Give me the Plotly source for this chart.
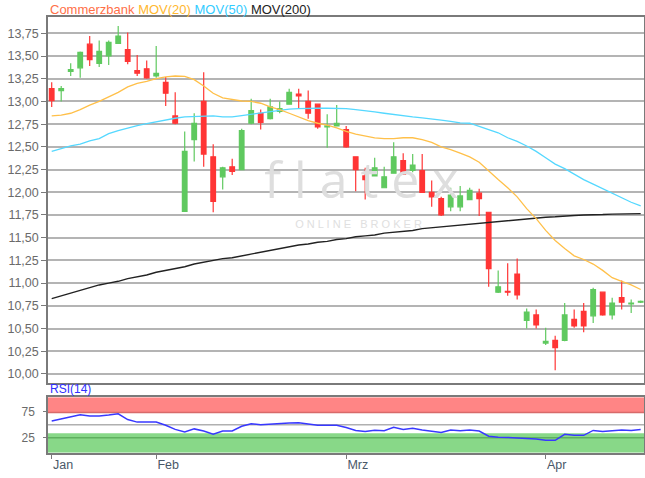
import plotly.graph_objects as go

dates = [
    "2018-01-17", "2018-01-18", "2018-01-19", "2018-01-22", "2018-01-23", "2018-01-24", "2018-01-25",
    "2018-01-26", "2018-01-29", "2018-01-30", "2018-01-31",
    "2018-02-01", "2018-02-02", "2018-02-05", "2018-02-06", "2018-02-07", "2018-02-08", "2018-02-09",
    "2018-02-12", "2018-02-13", "2018-02-14", "2018-02-15", "2018-02-16", "2018-02-19", "2018-02-20",
    "2018-02-21", "2018-02-22", "2018-02-23", "2018-02-26", "2018-02-27", "2018-02-28",
    "2018-03-01", "2018-03-02", "2018-03-05", "2018-03-06", "2018-03-07", "2018-03-08", "2018-03-09",
    "2018-03-12", "2018-03-13", "2018-03-14", "2018-03-15", "2018-03-16", "2018-03-19", "2018-03-20",
    "2018-03-21", "2018-03-22", "2018-03-23", "2018-03-26", "2018-03-27", "2018-03-28", "2018-03-29",
    "2018-04-03", "2018-04-04", "2018-04-05", "2018-04-06", "2018-04-09", "2018-04-10", "2018-04-11",
    "2018-04-12", "2018-04-13", "2018-04-16", "2018-04-17",
]

open_ = [13.14, 13.12, 13.33, 13.37, 13.63, 13.42, 13.50, 13.64, 13.57, 13.34, 13.36,
         13.28, 13.21, 12.84, 11.79, 12.58, 13.00, 12.39, 12.17, 12.28, 12.25, 12.76,
         12.87, 12.81, 12.89, 12.97, 13.08, 13.00, 12.97, 12.72, 12.73,
         12.69, 12.39, 12.18, 12.18, 12.05, 12.21, 12.35, 12.24, 12.24, 12.00, 11.93,
         11.84, 11.84, 11.92, 11.99, 11.78, 10.90, 10.91, 11.10, 10.59, 10.65,
         10.34, 10.37, 10.37, 10.60, 10.69, 10.64, 10.90, 10.65, 10.84, 10.77, 10.79]
high = [13.21, 13.17, 13.42, 13.55, 13.72, 13.67, 13.67, 13.83, 13.76, 13.51, 13.45,
        13.61, 13.27, 13.10, 12.67, 12.87, 13.32, 12.53, 12.28, 12.37, 12.70, 13.03,
        12.91, 13.03, 13.00, 13.14, 13.14, 13.12, 12.97, 12.86, 12.96,
        12.73, 12.39, 12.27, 12.38, 12.28, 12.55, 12.43, 12.42, 12.42, 12.13, 11.95,
        12.05, 12.07, 12.05, 12.04, 11.78, 11.14, 11.22, 11.27, 10.72, 10.71,
        10.51, 10.42, 10.78, 10.71, 10.78, 10.95, 10.90, 10.84, 11.03, 10.82, 10.81]
low = [12.94, 13.00, 13.28, 13.26, 13.39, 13.38, 13.40, 13.64, 13.41, 13.28, 13.25,
       13.26, 12.95, 12.75, 11.79, 12.34, 12.28, 11.78, 12.03, 12.19, 12.25, 12.75,
       12.69, 12.80, 12.87, 12.97, 12.92, 12.81, 12.70, 12.49, 12.73,
       12.49, 12.01, 11.92, 12.18, 12.05, 12.21, 12.19, 12.22, 12.00, 11.84, 11.74,
       11.79, 11.79, 11.92, 11.74, 10.96, 10.89, 10.86, 10.82, 10.50, 10.50,
       10.32, 10.04, 10.36, 10.51, 10.46, 10.56, 10.64, 10.60, 10.71, 10.67, 10.78]
close = [13.01, 13.14, 13.35, 13.54, 13.46, 13.55, 13.65, 13.72, 13.44, 13.31, 13.26,
         13.31, 13.09, 12.76, 12.45, 12.76, 12.42, 11.90, 12.27, 12.23, 12.68, 12.90,
         12.77, 12.94, 12.92, 13.10, 13.06, 12.87, 12.72, 12.73, 12.76,
         12.50, 12.25, 12.14, 12.27, 12.17, 12.39, 12.20, 12.30, 12.00, 11.95, 11.75,
         11.97, 11.96, 12.02, 11.93, 11.16, 10.96, 10.90, 10.87, 10.68, 10.54,
         10.36, 10.29, 10.65, 10.53, 10.53, 10.93, 10.65, 10.78, 10.79, 10.78, 10.80]

mov20 = [12.84, 12.85, 12.87, 12.91, 12.96, 13.00, 13.05, 13.10, 13.16, 13.20, 13.22,
         13.25, 13.27, 13.28, 13.275, 13.24, 13.17, 13.09, 13.04, 13.02, 13.005, 13.00,
         12.98, 12.94, 12.91, 12.87, 12.83, 12.79, 12.76, 12.74, 12.71,
         12.67, 12.64, 12.62, 12.60, 12.59, 12.59, 12.60, 12.60, 12.58, 12.55, 12.50,
         12.47, 12.43, 12.39, 12.33, 12.23, 12.14, 12.05, 11.95, 11.82, 11.71,
         11.58, 11.47, 11.38, 11.30, 11.26, 11.21, 11.14, 11.06, 11.02, 10.98, 10.93]
mov50 = [12.45, 12.48, 12.51, 12.53, 12.565, 12.59, 12.645, 12.68, 12.71, 12.735, 12.755,
         12.775, 12.80, 12.815, 12.83, 12.835, 12.84, 12.84, 12.83, 12.83, 12.845, 12.86,
         12.87, 12.89, 12.905, 12.915, 12.92, 12.925, 12.925, 12.925, 12.925,
         12.92, 12.91, 12.90, 12.885, 12.87, 12.855, 12.84, 12.83, 12.82, 12.81, 12.795,
         12.78, 12.765, 12.76, 12.725, 12.69, 12.655, 12.60, 12.56, 12.51, 12.45,
         12.38, 12.31, 12.26, 12.20, 12.14, 12.09, 12.04, 11.99, 11.94, 11.89, 11.85]
mov200 = [10.83, 10.86, 10.89, 10.92, 10.95, 10.98, 11.00, 11.02, 11.05, 11.07, 11.09,
          11.12, 11.14, 11.16, 11.18, 11.21, 11.23, 11.25, 11.27, 11.28, 11.30, 11.32,
          11.34, 11.36, 11.38, 11.40, 11.42, 11.43, 11.45, 11.46, 11.48,
          11.49, 11.51, 11.52, 11.53, 11.55, 11.56, 11.57, 11.58, 11.60, 11.61, 11.62,
          11.63, 11.64, 11.65, 11.66, 11.67, 11.68, 11.69, 11.70, 11.71, 11.72,
          11.725, 11.73, 11.74, 11.745, 11.75, 11.75, 11.755, 11.76, 11.76, 11.76, 11.765]
rsi14 = [57, 61, 65, 69, 67, 67, 68.5, 71, 60, 55, 55,
         55, 49, 41, 36, 42, 38, 32, 38, 38, 47, 52,
         50, 51.5, 52, 53.5, 54, 51, 49, 49, 49,
         44.5, 39, 37, 39.5, 38.5, 45, 41, 43, 40, 37, 35,
         40, 38.5, 40, 38, 28, 26, 25.5, 24.5, 23.5, 22.5,
         20, 20, 31.5, 29.6, 29.6, 39, 37, 38.5, 40, 39, 41]

price_ticks = [10.00, 10.25, 10.50, 10.75, 11.00, 11.25, 11.50, 11.75,
               12.00, 12.25, 12.50, 12.75, 13.00, 13.25, 13.50, 13.75]
rsi_ticks = [25, 75]
month_labels = ["Jan", "Feb", "Mrz", "Apr"]
month_starts = ["2018-01-17", "2018-02-01", "2018-03-01", "2018-04-03"]

xi = list(range(len(dates)))
month_pos = [dates.index(d) for d in month_starts]

FONT = "Liberation Sans, Arial, sans-serif"
GREEN = "#5fc95f"
RED = "#ff3535"

fig = go.Figure()

# watermark (drawn first so it stays beneath the candles)
fig.add_trace(go.Scatter(x=[32.6], y=[12.08], mode="text", text=["f l a t e x"],
                         textfont=dict(size=50, color="#dedede", family="Open Sans, sans-serif"),
                         hoverinfo="skip", showlegend=False, xaxis="x", yaxis="y"))
fig.add_trace(go.Scatter(x=[32.3], y=[11.64], mode="text", text=["O N L I N E   B R O K E R"],
                         textfont=dict(size=11, color="#e0e0e0", family=FONT),
                         hoverinfo="skip", showlegend=False, xaxis="x", yaxis="y"))

fig.add_trace(go.Scatter(x=xi, y=mov200, mode="lines", line=dict(color="#222222", width=1.4),
                         showlegend=False, hoverinfo="skip", xaxis="x", yaxis="y"))
fig.add_trace(go.Scatter(x=xi, y=mov50, mode="lines", line=dict(color="#55d8ff", width=1.3),
                         showlegend=False, hoverinfo="skip", xaxis="x", yaxis="y"))
fig.add_trace(go.Scatter(x=xi, y=mov20, mode="lines", line=dict(color="#ffc04a", width=1.3),
                         showlegend=False, hoverinfo="skip", xaxis="x", yaxis="y"))

fig.add_trace(go.Candlestick(
    x=xi, open=open_, high=high, low=low, close=close,
    increasing=dict(line=dict(color=GREEN, width=1.2), fillcolor=GREEN),
    decreasing=dict(line=dict(color=RED, width=1.2), fillcolor=RED),
    whiskerwidth=0, showlegend=False, xaxis="x", yaxis="y"))

fig.add_trace(go.Scatter(x=xi, y=rsi14, mode="lines", line=dict(color="#3838ff", width=1.5),
                         showlegend=False, hoverinfo="skip", xaxis="x2", yaxis="y2"))

# RSI bands
fig.add_shape(type="rect", xref="x2 domain", yref="y2", x0=0, x1=1, y0=73, y1=102.7,
              fillcolor="#ff8585", line=dict(width=0), layer="below")
fig.add_shape(type="rect", xref="x2 domain", yref="y2", x0=0, x1=1, y0=-3.8, y1=33.5,
              fillcolor="#88d888", line=dict(width=0), layer="below")
fig.add_shape(type="line", xref="x2 domain", yref="y2", x0=0, x1=1, y0=73.5, y1=73.5,
              line=dict(color="#d86a6a", width=1.5), layer="below")
fig.add_shape(type="line", xref="x2 domain", yref="y2", x0=0, x1=1, y0=25, y1=25,
              line=dict(color="#5fb05f", width=1.5), layer="below")
fig.add_shape(type="line", xref="x2 domain", yref="y2", x0=0, x1=1, y0=50, y1=50,
              line=dict(color="#b0b0b0", width=1.5), layer="below")

xr = [-0.39, 62.35]
fig.update_layout(
    width=645, height=478,
    margin=dict(l=48, r=1, t=0, b=0),
    paper_bgcolor="white", plot_bgcolor="white",
    separators=",.",
    font=dict(family=FONT),
    showlegend=False,
    xaxis=dict(domain=[0, 1], range=xr, anchor="y", showticklabels=False, showgrid=False,
               zeroline=False, showline=True, mirror=True, linecolor="#7a7a7a", linewidth=1.5,
               ticks="", rangeslider=dict(visible=False), fixedrange=True),
    yaxis=dict(domain=[0.1994, 0.9651], range=[9.904, 13.933], tickvals=price_ticks,
               tickformat=".2f", ticks="outside", ticklen=5, tickcolor="#7a7a7a",
               tickfont=dict(size=12.5, color="#6a6a6a"), gridcolor="#b4b4b4", gridwidth=1.5,
               showline=True, mirror=True, linecolor="#7a7a7a", linewidth=1.5, zeroline=False),
    xaxis2=dict(domain=[0, 1], range=xr, anchor="y2", matches="x", tickvals=month_pos,
                ticktext=month_labels, ticks="outside", ticklen=5, tickcolor="#7a7a7a",
                ticklabelposition="outside right",
                tickfont=dict(size=12.5, color="#4a5868"), showgrid=False, zeroline=False,
                showline=True, mirror=True, linecolor="#7a7a7a", linewidth=1.5),
    yaxis2=dict(domain=[0.0529, 0.1688], range=[-3.8, 102.7], tickvals=rsi_ticks,
                ticks="outside", ticklen=3, tickcolor="#7a7a7a", showgrid=False,
                ticklabelstandoff=6,
                tickfont=dict(size=12, color="#6a6a6a"), zeroline=False,
                showline=True, mirror=True, linecolor="#7a7a7a", linewidth=1.5),
    annotations=[
        dict(xref="paper", yref="paper", x=0.0, y=1 - 9 / 478, xanchor="left", yanchor="middle",
             showarrow=False, font=dict(size=13, family=FONT),
             text=("<span style='color:#ff7048'>Commerzbank</span> "
                   "<span style='color:#ffb830'>MOV(20)</span> "
                   "<span style='color:#33ccff'>MOV(50)</span> "
                   "<span style='color:#222222'>MOV(200)</span>")),
        dict(xref="paper", yref="paper", x=0.0, y=1 - 389 / 478, xanchor="left", yanchor="middle",
             showarrow=False, font=dict(size=12, family=FONT, color="#3030ff"), text="RSI(14)"),
    ],
)

fig.write_html("out.html", config={"displayModeBar": False},
               post_script="document.body.style.margin='0px';")
